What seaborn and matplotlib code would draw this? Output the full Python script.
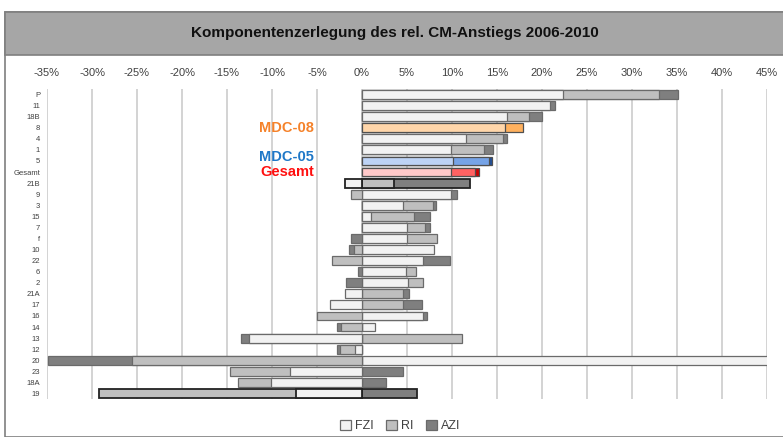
import numpy as np
import pandas as pd
import seaborn as sns
import matplotlib.pyplot as plt
from matplotlib.patches import Rectangle, Patch
sns.set_theme(style="white")
plt.rcParams['font.family'] = ['Liberation Sans', 'DejaVu Sans']

cats = ["P", "11", "18B", "8", "4", "1", "5", "Gesamt", "21B", "9", "3", "15", "7", "f",
        "10", "22", "6", "2", "21A", "17", "16", "14", "13", "12", "20", "23", "18A", "19"]
fzi = [22.3, 20.9, 16.1, 15.9, 11.6, 9.9, 10.1, 9.9, -1.9, 9.9, 4.6, 1.0, 5.0, 5.0,
       8.0, 6.8, 4.9, 5.1, -1.9, -3.6, 6.8, 1.4, -12.6, -0.8, 50.0, -8.0, -10.1, -7.3]
ri = [10.7, 0.0, 2.5, 2.0, 4.1, 3.6, 4.0, 2.7, 3.5, -1.2, 3.3, 4.8, 2.0, 3.3,
      -0.9, -3.3, 1.1, 1.7, 4.5, 4.5, -5.0, -2.3, 11.1, -1.7, -25.6, -6.7, -3.7, -21.9]
azi = [2.1, 0.5, 1.4, 0.0, 0.4, 1.0, 0.3, 0.4, 8.5, 0.6, 0.3, 1.8, 0.6, -1.2,
       -0.5, 3.0, -0.5, -1.8, 0.7, 2.2, 0.4, -0.45, -0.9, -0.3, -9.3, 4.6, 2.7, 6.1]
components = ["FZI", "RI", "AZI"]
title = "Komponentenzerlegung des rel. CM-Anstiegs 2006-2010"

base_colors = {"FZI": "#f2f2f2", "RI": "#bfbfbf", "AZI": "#7f7f7f"}
special = {
    "8": {"FZI": "#ffd6aa", "RI": "#ffb15e", "AZI": "#e07010"},
    "5": {"FZI": "#bdd3f5", "RI": "#76a3e6", "AZI": "#1f4e9a"},
    "Gesamt": {"FZI": "#ffc9c9", "RI": "#ff6262", "AZI": "#cc0000"},
}
strong_edge = ["21B", "19"]
labels = [("MDC-08", "8", "#f5822a", 0.0), ("MDC-05", "5", "#1f78c8", -0.35),
          ("Gesamt", "Gesamt", "#ff1010", 0.0)]

df = pd.DataFrame({"cat": cats, "FZI": fzi, "RI": ri, "AZI": azi})

fig = plt.figure(figsize=(7.83, 4.37), dpi=100)
ax = fig.add_axes([47 / 783, 1 - 399 / 437, 720 / 783, 310 / 437])

# stacked bars: draw outermost cumulative first, inner segments on top
for side in ["pos", "neg"]:
    parts = df[components].clip(lower=0) if side == "pos" else df[components].clip(upper=0)
    cum = parts.cumsum(axis=1)
    for comp in reversed(components):
        sub = pd.DataFrame({"cat": df.cat, "val": cum[comp]})
        sub = sub[parts[comp] != 0]
        if sub.empty:
            continue
        n0 = len(ax.patches)
        sns.barplot(data=sub, x="val", y="cat", order=cats, orient="h",
                    color=base_colors[comp], saturation=1, width=0.8,
                    edgecolor="#6a6a6a", linewidth=0.9, ax=ax, zorder=3)
        for p in ax.patches[n0:]:
            row = cats[int(round(p.get_y() + p.get_height() / 2))]
            if row in special:
                p.set_facecolor(special[row][comp])
                p.set_edgecolor("#505050")
            if row in strong_edge:
                p.set_edgecolor("#222222")
                p.set_linewidth(1.3)

ax.set_xlim(-35, 45)
ax.set_ylim(len(cats) - 0.5, -0.5)
ticks = np.arange(-35, 46, 5)
ax.set_xticks(ticks)
ax.set_xticklabels([f"{t}%" for t in ticks])
ax.xaxis.tick_top()
ax.tick_params(axis="x", top=False, length=0, labelsize=8, pad=8, colors="#404040")
ax.tick_params(axis="y", left=False, length=0, labelsize=5.5, pad=5, colors="#404040")
ax.set_xlabel("")
ax.set_ylabel("")
ax.xaxis.grid(True, color="#d0d0d0", linewidth=1.3, zorder=0)
ax.set_axisbelow(True)
sns.despine(ax=ax, left=True, bottom=True, top=True, right=True)

for text, row, col, dy in labels:
    ax.text(-5.3, cats.index(row) + dy, text, ha="right", va="center",
            color=col, fontsize=10.5, fontweight="bold")

# title band and frame
fig.patches.append(Rectangle((5 / 783, 0), 1, 1 - 12 / 437, transform=fig.transFigure,
                             facecolor="none", edgecolor="#7f7f7f", linewidth=1.2))
fig.patches.append(Rectangle((5 / 783, 1 - 55 / 437), 1, 43 / 437, transform=fig.transFigure,
                             facecolor="#a6a6a6", edgecolor="#7f7f7f", linewidth=1.2))
fig.text(395 / 783, 1 - 33 / 437, title, ha="center", va="center",
         fontsize=11, fontweight="bold", color="#111111")

handles = [Patch(facecolor=base_colors[c], edgecolor="#6a6a6a", linewidth=0.9) for c in components]
fig.legend(handles, components, loc="center", bbox_to_anchor=(400 / 783, 1 - 426 / 437),
           ncol=3, frameon=False, fontsize=9, handlelength=0.9, handleheight=0.9,
           handletextpad=0.3, columnspacing=1.0, labelcolor="#404040")

plt.savefig("out.png", dpi=100)
plt.close()
